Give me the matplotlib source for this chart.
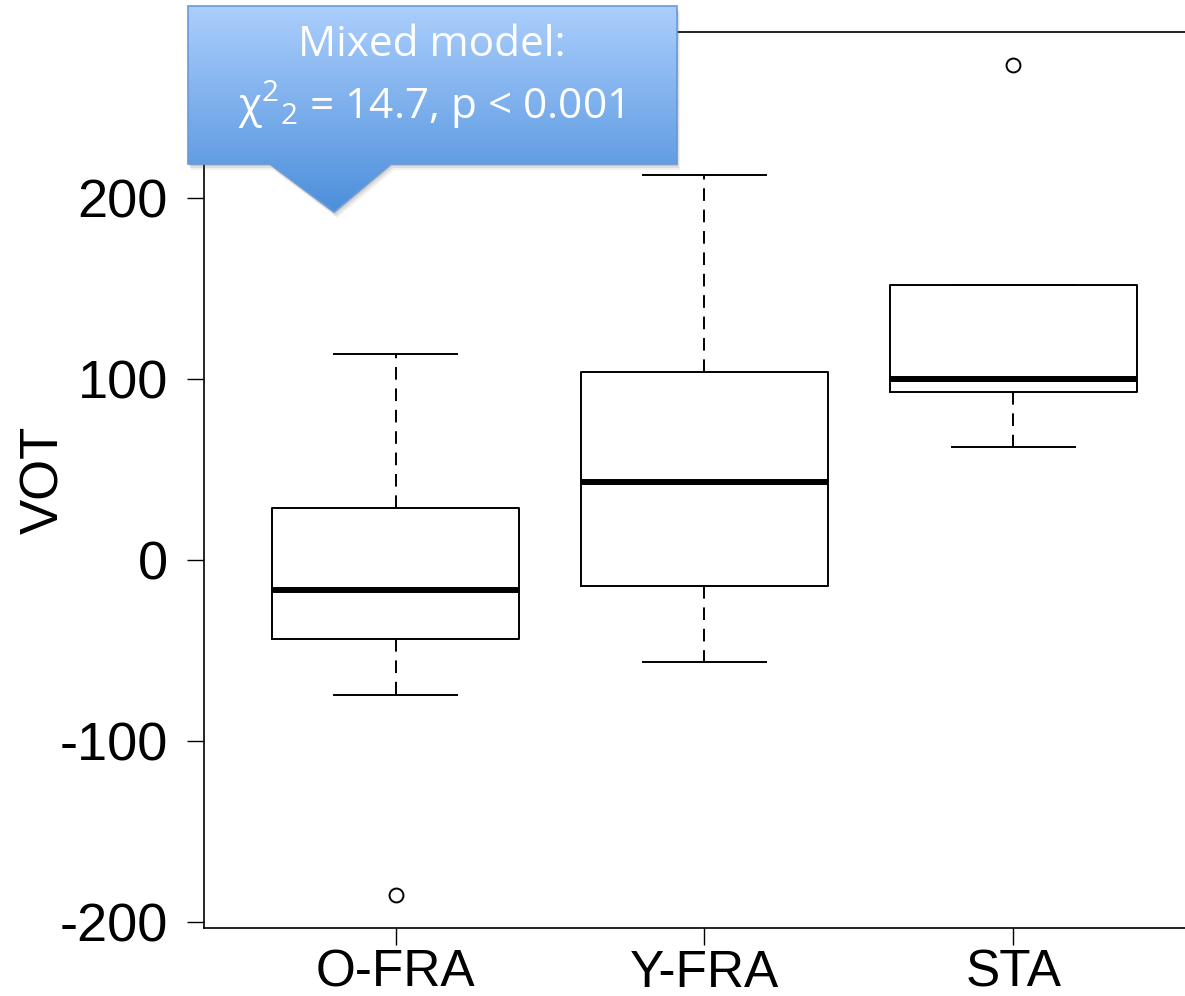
import matplotlib
matplotlib.use('Agg')
import matplotlib.pyplot as plt
import numpy as np
from matplotlib.patches import Polygon

# Data
groups = ['O-FRA', 'Y-FRA', 'STA']
whisker_low = [-74.5, -56.3, 62.7]
q1 = [-43.3, -14.2, 93.1]
medians = [-16.6, 43.0, 100.2]
q3 = [28.9, 103.9, 152.2]
whisker_high = [114.0, 212.7, 152.2]
outliers = [[-184.8], [], [273.5]]
yticks = [-200, -100, 0, 100, 200]

plt.rcParams['font.family'] = ['Liberation Sans', 'DejaVu Sans']
plt.rcParams['mathtext.fontset'] = 'custom'
plt.rcParams['mathtext.rm'] = 'Open Sans'
plt.rcParams['mathtext.it'] = 'Open Sans:italic'

fig = plt.figure(figsize=(11.85, 9.96), dpi=100)
ax = fig.add_axes([204 / 1185, 68 / 996, 1001 / 1185, 896 / 996])

stats = []
for i, g in enumerate(groups):
    stats.append(dict(label=g, whislo=whisker_low[i], q1=q1[i], med=medians[i],
                      q3=q3[i], whishi=whisker_high[i], fliers=outliers[i]))

ax.bxp(stats, positions=[1, 2, 3], widths=0.8, showfliers=True,
       boxprops=dict(color='black', linewidth=1.4),
       medianprops=dict(color='black', linewidth=4.3, solid_capstyle='butt'),
       whiskerprops=dict(color='black', linewidth=1.4, linestyle=(0, (6.5, 4.5))),
       capprops=dict(color='black', linewidth=1.4),
       capwidths=0.4,
       flierprops=dict(marker='o', markersize=10, markerfacecolor='none',
                       markeredgecolor='black', markeredgewidth=1.4))

ax.set_xlim(0.38, 3.62)
ax.set_ylim(-203.1, 291.8)
ax.set_yticks(yticks)
ax.set_yticklabels([str(t) for t in yticks])
ax.set_xticks([1, 2, 3])
ax.set_xticklabels(groups)
ax.tick_params(axis='both', direction='out', length=12, width=1.0, colors='black')
ax.tick_params(axis='y', labelsize=39, pad=14)
ax.tick_params(axis='x', labelsize=37, pad=3)
ax.set_ylabel('VOT', fontsize=38, labelpad=-7)
for s in ax.spines.values():
    s.set_linewidth(1.2)

# callout box drawn in pixel coordinates on an overlay
ov = fig.add_axes([0, 0, 1, 1], zorder=10)
ov.set_xlim(0, 1185)
ov.set_ylim(996, 0)
ov.axis('off')

shape = [(188, 6), (677, 6), (677, 164), (391, 164), (334, 212), (270, 164), (188, 164)]
for k, a in zip([6, 4, 2], [0.08, 0.12, 0.18]):
    ov.add_patch(Polygon([(x + k * 0.5, y + k) for x, y in shape], closed=True,
                         facecolor='#555555', edgecolor='none', alpha=a))

top_col = np.array([0.67, 0.81, 0.99])
bot_col = np.array([0.30, 0.56, 0.86])
t = np.linspace(0, 1, 256)[:, None, None]
grad = top_col * (1 - t) + bot_col * t
clip = Polygon(shape, closed=True, facecolor='none', edgecolor='#6a9ad6', linewidth=1.2)
ov.add_patch(clip)
im = ov.imshow(grad, extent=[188, 677, 212, 6], aspect='auto', zorder=1)
im.set_clip_path(clip)
clip.set_zorder(2)

ov.text(432, 45, 'Mixed model:', color='white', fontsize=30.5, family='Open Sans',
        ha='center', va='center', zorder=3)
ov.text(431, 105, r'$\mathrm{\chi}^{2}{}_{2}$ = 14.7, p < 0.001', color='white',
        fontsize=30.5, family='Open Sans', ha='center', va='center', zorder=3)

fig.savefig('out.png', dpi=100)
